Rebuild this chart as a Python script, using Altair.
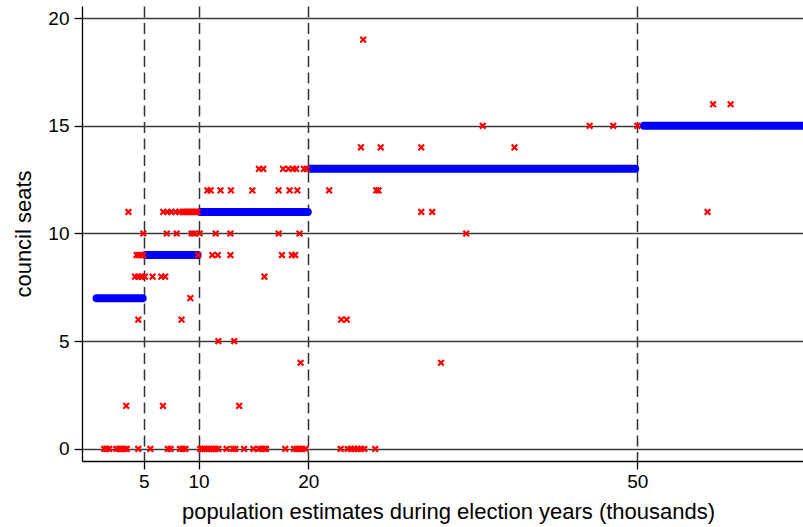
import altair as alt
import pandas as pd

# Blue: predicted seats, dense runs of points (start / end population, thousands)
band_seats = [7, 9, 11, 13, 15]
band_start = [0.7, 5.15, 10.15, 20.2, 50.6]
band_end = [4.9, 9.9, 19.95, 49.8, 66.0]

# Red: actual council seats that deviate (population in thousands, per seat row)
red_0 = [1.4, 1.6, 1.85, 2.5, 2.75, 3.0, 3.25, 3.45, 4.5, 5.6, 7.2, 7.45, 8.3, 8.55, 8.8,
         10.15, 10.35, 10.55, 10.75, 10.95, 11.15, 11.35, 11.55, 11.8, 12.55, 13.15, 13.35,
         14.15, 15.0, 15.5, 15.75, 16.0, 16.15, 17.9, 18.7, 18.95, 19.2, 19.45, 19.75,
         22.95, 23.6, 23.9, 24.2, 24.5, 24.8, 25.1, 26.1]
red_2 = [3.4, 6.75, 13.7]
red_4 = [19.3, 32.1]
red_5 = [11.8, 13.25]
red_6 = [4.5, 8.45, 23.0, 23.5]
red_7 = [9.25]
red_8 = [4.2, 4.5, 4.8, 5.1, 5.8, 6.6, 6.95, 16.0]
red_9 = [4.35, 4.55, 4.75, 4.95, 9.97, 11.25, 11.75, 12.9, 17.6, 18.5, 18.8]
red_10 = [4.96, 7.1, 8.0, 9.37, 9.58, 10.1, 11.56, 12.9, 17.3, 19.2, 34.4]
red_11 = [3.6, 6.78, 7.15, 7.5, 7.9, 8.25, 8.55, 8.7, 8.85, 9.0, 9.15, 9.3, 9.45, 9.6,
          9.75, 9.9, 30.3, 31.3, 56.4]
red_12 = [10.8, 11.1, 12.0, 12.95, 14.9, 17.3, 18.3, 19.0, 21.9, 26.2, 26.4]
red_13 = [15.5, 15.9, 17.7, 18.2, 18.6, 18.9, 19.6, 19.85]
red_14 = [24.8, 26.6, 30.3, 38.8]
red_15 = [35.9, 45.65, 47.8, 50.0]
red_16 = [56.9, 58.5]
red_19 = [25.0]

x_ticks = [5, 10, 20, 50]
y_ticks = [0, 5, 10, 15, 20]

bands = pd.DataFrame({"seats": band_seats, "start": band_start, "end": band_end})

red_rows = {0: red_0, 2: red_2, 4: red_4, 5: red_5, 6: red_6, 7: red_7, 8: red_8,
            9: red_9, 10: red_10, 11: red_11, 12: red_12, 13: red_13, 14: red_14,
            15: red_15, 16: red_16, 19: red_19}
reds = pd.DataFrame([{"pop": p, "seats": s} for s, lst in red_rows.items() for p in lst])

FONT = "Liberation Sans"
x_scale = alt.Scale(domain=[-0.63, 65.1], nice=False, zero=False)
y_scale = alt.Scale(domain=[-0.56, 20.56], nice=False, zero=False)

x_axis = alt.Axis(
    values=x_ticks, grid=True, gridDash=[11, 5.5], gridColor="#333333", gridWidth=1.5,
    tickSize=8, tickColor="black", tickWidth=1.3, domainColor="black", domainWidth=1.3,
    labelFont=FONT, labelFontSize=19, labelColor="black", labelPadding=3,
    title="population estimates during election years (thousands)",
    titleFont=FONT, titleFontSize=22, titleFontWeight="normal", titleColor="black",
    titleX=366, titleY=57, titleBaseline="alphabetic", titleAlign="center",
)
y_axis = alt.Axis(
    values=y_ticks, grid=True, gridColor="#3a3a3a", gridWidth=1.3,
    tickSize=8, tickColor="black", tickWidth=1.3, domainColor="black", domainWidth=1.3,
    labelFont=FONT, labelFontSize=19, labelColor="black", labelPadding=5,
    title="council seats", titleFont=FONT, titleFontSize=22, titleFontWeight="normal",
    titleColor="black", titleX=-59, titleY=227.5, titleAngle=270,
    titleBaseline="middle", titleAlign="center",
)

blue = alt.Chart(bands).mark_rule(
    color="#0000ff", strokeWidth=8, strokeCap="round", clip=True
).encode(
    x=alt.X("start:Q", scale=x_scale, axis=x_axis),
    x2="end:Q",
    y=alt.Y("seats:Q", scale=y_scale, axis=y_axis),
)

red = alt.Chart(reds).mark_point(
    shape="M-1,-1L1,1M-1,1L1,-1", size=32, stroke="#ff0000", strokeWidth=2.2,
    filled=False, opacity=1, clip=True
).encode(
    x=alt.X("pop:Q", scale=x_scale),
    y=alt.Y("seats:Q", scale=y_scale),
)

chart = alt.layer(blue, red).properties(
    width=721, height=455,
    padding={"left": 82, "top": 6, "right": 0, "bottom": 66},
    autosize="none",
).configure_view(stroke=None)

chart.save("out.html", embed_options={"renderer": "svg", "actions": False})
